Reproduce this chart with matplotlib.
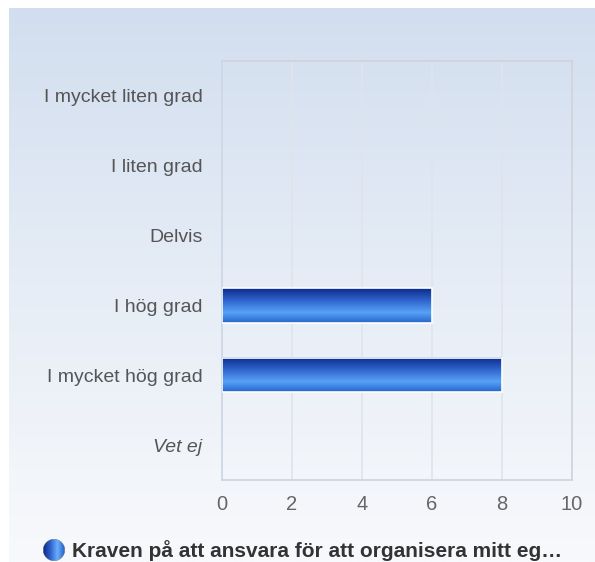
import numpy as np
import matplotlib.pyplot as plt
from matplotlib.colors import LinearSegmentedColormap

categories = ['I mycket liten grad', 'I liten grad', 'Delvis', 'I hög grad',
              'I mycket hög grad', 'Vet ej']
values = [0, 0, 0, 6, 8, 0]
xticks = [0, 2, 4, 6, 8, 10]
legend_label = 'Kraven på att ansvara för att organisera mitt eg…'

W, H = 595, 562
fig = plt.figure(figsize=(W / 100, H / 100), dpi=100)
fig.patch.set_facecolor('white')

# gradient background panel
bg = fig.add_axes([9 / W, 0, 1 - 9 / W, 1 - 8 / H])
grad = np.linspace(0, 1, 256).reshape(-1, 1)
bg_cmap = LinearSegmentedColormap.from_list('bg', ['#d2deef', '#e6edf6', '#f8f9fc'])
bg.imshow(grad, aspect='auto', cmap=bg_cmap, extent=[0, 1, 0, 1], origin='upper')
bg.set_axis_off()

ax = fig.add_axes([222 / W, 1 - 480 / H, 350 / W, 419 / H])
ax.patch.set_alpha(0)

bar_cmap = LinearSegmentedColormap.from_list(
    'bar', [(0, '#0b2a88'), (0.35, '#2f63cc'), (0.7, '#58a2f8'), (1, '#2364cc')])
n = len(categories)
ypos = np.arange(n)
bh = 0.49
for y, v in zip(ypos, values):
    if v <= 0:
        continue
    ax.imshow(grad, aspect='auto', cmap=bar_cmap, origin='upper',
              extent=[0, v, y + bh / 2, y - bh / 2], zorder=3)
    ax.add_patch(plt.Rectangle((0, y - bh / 2), v, bh, fill=False,
                               edgecolor='white', lw=1.2, zorder=4))

ax.set_xlim(0, 10)
ax.set_ylim(n - 0.5, -0.5)
ax.set_xticks(xticks)
ax.set_yticks(ypos)
ax.set_yticklabels(categories)
for lbl in ax.get_yticklabels():
    if lbl.get_text() == 'Vet ej':
        lbl.set_style('italic')
ax.tick_params(axis='y', length=0, labelsize=14, colors='#555555', pad=14)
ax.tick_params(axis='x', length=0, labelsize=14.5, colors='#666666', pad=11)
for t in ax.get_xticklabels() + ax.get_yticklabels():
    t.set_fontfamily('Liberation Sans')
ax.grid(axis='x', color='#e0e4ea', lw=1.2)
ax.set_axisbelow(True)
for s in ax.spines.values():
    s.set_color('#d0d3d9')
    s.set_linewidth(1.2)
ax.spines['left'].set_color('#cdd6e8')

# legend
fig.text(72 / W, 1 - 551 / H, legend_label, fontsize=15, fontweight='bold',
         color='#333333', va='center', family='Liberation Sans')
sph = fig.add_axes([43 / W, 1 - 561 / H, 22 / W, 22 / H])
sph.set_axis_off()
xx, yy = np.meshgrid(np.linspace(-1, 1, 60), np.linspace(-1, 1, 60))
sph_cmap = LinearSegmentedColormap.from_list('sph', ['#0b2a88', '#2f63cc', '#6aaefc', '#2364cc'])
img = np.ma.masked_where(xx ** 2 + yy ** 2 > 1, (xx + 1) / 2)
sph.imshow(img, cmap=sph_cmap, extent=[-1, 1, -1, 1])
sph.set_xlim(-1, 1)
sph.set_ylim(-1, 1)

fig.savefig('out.png', dpi=100)
